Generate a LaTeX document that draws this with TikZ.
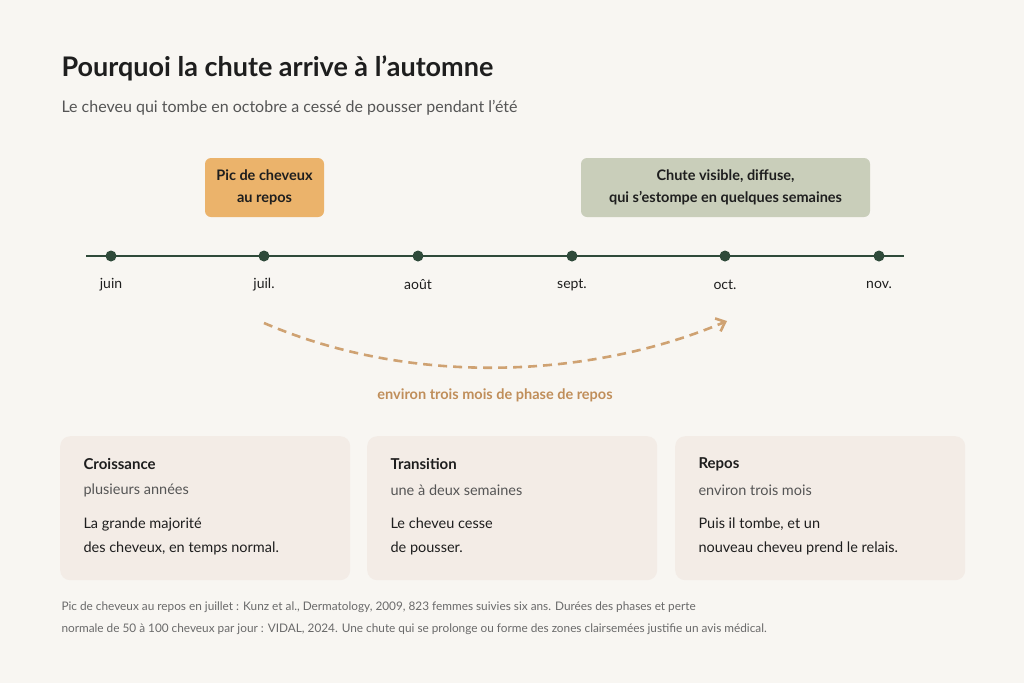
\documentclass[tikz,border=0pt]{standalone}
\usepackage{fontspec}
\setmainfont{Lato}
\usetikzlibrary{arrows.meta}
\definecolor{bg}{HTML}{F8F6F2}
\definecolor{ink}{HTML}{1E1E1E}
\definecolor{sub}{HTML}{555555}
\definecolor{line}{HTML}{2F4A3A}
\definecolor{orange}{HTML}{EBB36B}
\definecolor{sage}{HTML}{C9CEBA}
\definecolor{arc}{HTML}{CFA272}
\definecolor{arclab}{HTML}{C08E5A}
\definecolor{card}{HTML}{F3ECE6}
\definecolor{foot}{HTML}{6A6A6A}
\begin{document}
\begin{tikzpicture}[x=1pt,y=-1pt,
  dot/.style={circle,fill=line,inner sep=0pt,minimum size=11pt},
  mon/.style={font=\fontsize{14}{16}\selectfont,text=ink},
  tag/.style={rounded corners=6pt,align=center,font=\bfseries\fontsize{14.5}{22}\selectfont,text=ink},
  card/.style={fill=card,rounded corners=10pt,minimum width=290pt,minimum height=144pt,anchor=north west},
  ct/.style={anchor=west,font=\bfseries\fontsize{15}{18}\selectfont,text=ink},
  cs/.style={anchor=west,font=\fontsize{14.5}{17}\selectfont,text=sub},
  cb/.style={anchor=north west,align=left,font=\fontsize{14.5}{24}\selectfont,text=ink}]
\fill[bg] (0,0) rectangle (1024,683);
\useasboundingbox (0,0) rectangle (1024,683);
\node[anchor=west,font=\bfseries\fontsize{27}{30}\selectfont,text=ink] (title) at (58,68) {Pourquoi la chute arrive à l'automne};
\node[anchor=west,font=\fontsize{16}{19}\selectfont,text=sub] (subt) at (58,108) {Le cheveu qui tombe en octobre a cessé de pousser pendant l'été};
\node[tag,fill=orange,minimum width=119pt,minimum height=59pt] (pic) at (264.5,187.5) {Pic de cheveux\\au repos};
\node[tag,fill=sage,minimum width=289pt,minimum height=59pt] (chute) at (725.5,187.5) {Chute visible, diffuse,\\qui s'estompe en quelques semaines};
\coordinate (l0) at (86,256); \coordinate (l1) at (904,256);
\draw[line,line width=2.2pt] (l0) -- (l1);
\foreach \x/\n/\t in {111/a/juin,264/b/juil.,418/c/août,572/d/sept.,725/e/oct.,879/f/nov.}{
  \node[dot] (d\n) at (\x,256) {};
  \node[mon] (m\n) at (\x,285) {\t};
}
\coordinate (s) at (264,323); \coordinate (t) at (727,321);
\draw[arc,line width=2.6pt,dash pattern=on 9pt off 6pt,-{Straight Barb[length=8pt,width=14pt]}] (s) .. controls (420,390) and (600,375) .. (t);
\node[font=\bfseries\fontsize{14.5}{17}\selectfont,text=arclab] (lab) at (495,395) {environ trois mois de phase de repos};
\foreach \x/\n/\a/\b/\c/\d in {60/g/Croissance/plusieurs années/La grande majorité/des cheveux{,} en temps normal.,367/h/Transition/une à deux semaines/Le cheveu cesse/de pousser.,675/i/Repos/environ trois mois/Puis il tombe{,} et un/nouveau cheveu prend le relais.}{
  \node[card] (c\n) at (\x,436) {};
  \node[ct] at (\x+20,464) {\a};
  \node[cs] at (\x+20,490) {\b};
  \node[cb] at (\x+20,514) {\c\\\d};
}
\node[anchor=north west,align=left,font=\fontsize{11.8}{22}\selectfont,text=foot] (fn) at (58,598) {Pic de cheveux au repos en juillet : Kunz et al., Dermatology, 2009, 823 femmes suivies six ans. Durées des phases et perte\\normale de 50 à 100 cheveux par jour : VIDAL, 2024. Une chute qui se prolonge ou forme des zones clairsemées justifie un avis médical.};
\end{tikzpicture}
\end{document}
